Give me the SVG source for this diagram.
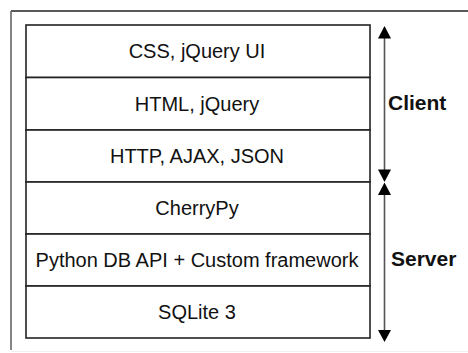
<svg xmlns="http://www.w3.org/2000/svg" width="468" height="353" viewBox="0 0 468 353">
<style>
.box{fill:#fff;stroke:#222;stroke-width:1.6}
.lbl{font-family:"Liberation Sans",Arial,sans-serif;font-size:20px;fill:#111;text-anchor:middle}
.side{font-family:"Liberation Sans",Arial,sans-serif;font-size:21px;font-weight:bold;fill:#111}
.ax{stroke:#555;stroke-width:1.6;fill:none}
.ah{fill:#000}
</style>
<rect width="468" height="353" fill="#fff"/>
<g id="frame">
<line x1="11" y1="11" x2="468" y2="11" stroke="#222" stroke-width="1.6"/>
<line x1="11" y1="11" x2="11" y2="350" stroke="#666" stroke-width="1.6"/>
<line x1="11" y1="351.5" x2="468" y2="351.5" stroke="#f0f0f0" stroke-width="1"/>
</g>
<g id="css"><rect class="box" x="26" y="25" width="344" height="52.5"/><text class="lbl" x="197" y="58">CSS, jQuery UI</text></g>
<g id="html"><rect class="box" x="26" y="77.5" width="344" height="52.5"/><text class="lbl" x="197" y="110.5">HTML, jQuery</text></g>
<g id="http"><rect class="box" x="26" y="130" width="344" height="52"/><text class="lbl" x="197" y="162.5">HTTP, AJAX, JSON</text></g>
<g id="cherrypy"><rect class="box" x="26" y="182" width="344" height="52"/><text class="lbl" x="197" y="214.5">CherryPy</text></g>
<g id="dbapi"><rect class="box" x="26" y="234" width="344" height="52"/><text class="lbl" x="197" y="266.5">Python DB API + Custom framework</text></g>
<g id="sqlite"><rect class="box" x="26" y="286" width="344" height="52"/><text class="lbl" x="197" y="318.5">SQLite 3</text></g>
<g id="client"><text class="side" x="388" y="110">Client</text></g>
<g id="server"><text class="side" x="391" y="266">Server</text></g>
<g id="connectors">
<line class="ax" x1="384.5" y1="36" x2="384.5" y2="172"/>
<polygon class="ah" points="384.5,26 378,38.5 391,38.5"/>
<polygon class="ah" points="384.5,182 378,169.5 391,169.5"/>
<line class="ax" x1="384.5" y1="192" x2="384.5" y2="333"/>
<polygon class="ah" points="384.5,182.5 378,195 391,195"/>
<polygon class="ah" points="384.5,342 378,330 391,330"/>
</g>
</svg>
